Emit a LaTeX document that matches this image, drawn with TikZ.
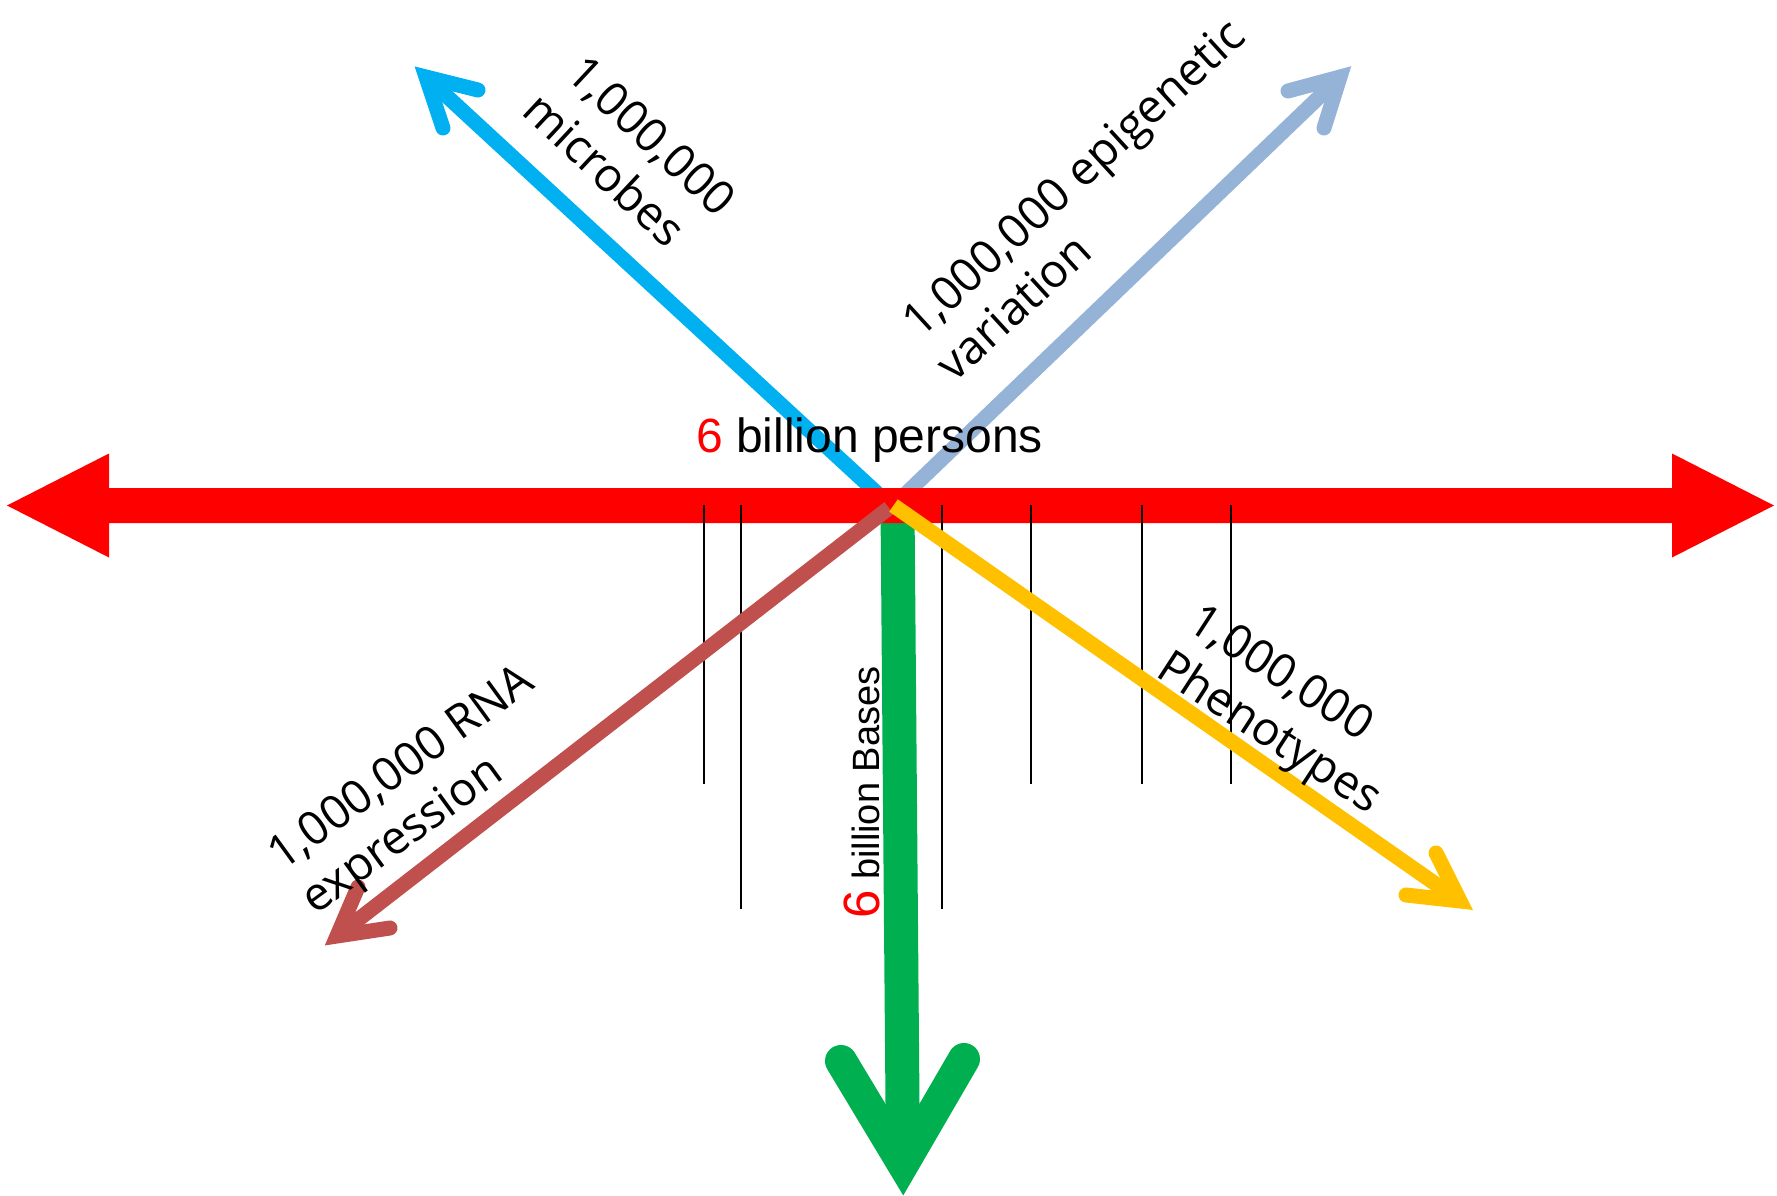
\documentclass[tikz,border=0pt]{standalone}
\usepackage{fontspec}
\setmainfont{Liberation Sans}
\newfontfamily\lblfont{Open Sans}
\definecolor{cRed}{HTML}{FF0000}
\definecolor{cBlue}{HTML}{00B0F0}
\definecolor{cLight}{HTML}{95B3D7}
\definecolor{cBrown}{HTML}{C0504D}
\definecolor{cYellow}{HTML}{FFC000}
\definecolor{cGreen}{HTML}{00B050}
\begin{document}
\begin{tikzpicture}[x=1pt,y=-1pt,
  shaft/.style={line width=15pt,line cap=butt},
  barbs/.style={line width=15pt,line cap=round,line join=miter,miter limit=20},
  gshaft/.style={line width=34pt,line cap=butt,cGreen},
  gbarbs/.style={line width=32pt,line cap=round,line join=miter,miter limit=20,cGreen},
  tick/.style={line width=2pt,black},
  lbl/.style={font=\lblfont\fontsize{46.5}{55}\selectfont,inner sep=0pt,anchor=base west}]
\useasboundingbox (0,0) rectangle (1777,1196);
% coordinates
\coordinate (O) at (892,507);
\coordinate (bV) at (426,77);   \coordinate (bB1) at (478,90);  \coordinate (bB2) at (443,128);
\coordinate (lV) at (1340,77);  \coordinate (lB1) at (1288,91); \coordinate (lB2) at (1324,128);
\coordinate (rS) at (889,508);  \coordinate (rV) at (337,936);  \coordinate (rB1) at (358,887); \coordinate (rB2) at (390,928);
\coordinate (yS) at (893.5,505.5); \coordinate (yV) at (1460,901); \coordinate (yB1) at (1436,853); \coordinate (yB2) at (1406,895);
\coordinate (gS) at (897.5,507); \coordinate (gV) at (903,1164); \coordinate (gB1) at (841,1061); \coordinate (gB2) at (964,1059);
% arrows under the red band
\draw[shaft,cBlue] (O) -- (bV);
\draw[barbs,cBlue] (bB1) -- (bV) -- (bB2);
\draw[shaft,cLight] (O) -- (lV);
\draw[barbs,cLight] (lB1) -- (lV) -- (lB2);
\draw[gshaft] (gS) -- (gV);
\draw[gbarbs] (gB1) -- (gV) -- (gB2);
% red double arrow
\fill[cRed] (7,505.5) -- (109,453.5) -- (109,488) -- (1672,488) -- (1672,453.5) -- (1774,505.5)
  -- (1672,557.5) -- (1672,523) -- (109,523) -- (109,557.5) -- cycle;
% ticks
\foreach \x/\e [count=\i] in {703.5/784,741/909,942/909,1030.5/784,1142/784,1231/784}{
  \coordinate (t\i a) at (\x,505);
  \coordinate (t\i b) at (\x,\e);
  \draw[tick] (t\i a) -- (t\i b);
}
% arrows over the red band
\draw[shaft,cBrown] (rS) -- (rV);
\draw[barbs,cBrown] (rB1) -- (rV) -- (rB2);
\draw[shaft,cYellow] (yS) -- (yV);
\draw[barbs,cYellow] (yB1) -- (yV) -- (yB2);
% labels
\node[lbl,rotate=-43] (mic1) at (564,76) {1,000,000};
\node[lbl,rotate=-43] (mic2) at (520,113) {microbes};
\node[lbl,rotate=42.5] (epi1) at (920,340) {1,000,000 epigenetic};
\node[lbl,rotate=42.5] (epi2) at (954,384) {variation};
\node[lbl,rotate=36] (rna1) at (282,872) {1,000,000 RNA};
\node[lbl,rotate=36] (rna2) at (315,916) {expression};
\node[lbl,rotate=-33] (phe1) at (1185,628) {1,000,000};
\node[lbl,rotate=-33] (phe2) at (1154,675) {Phenotypes};
\node[anchor=base west,inner sep=0pt,font=\fontsize{48}{58}\selectfont] (persons) at (696,452) {\textcolor{cRed}{6} billion persons};
\node[anchor=base west,inner sep=0pt,rotate=90,font=\fontsize{38}{46}\selectfont] (bases) at (879,919) {{\fontsize{51}{60}\selectfont\textcolor{cRed}{6}} billion Bases};
\end{tikzpicture}
\end{document}
